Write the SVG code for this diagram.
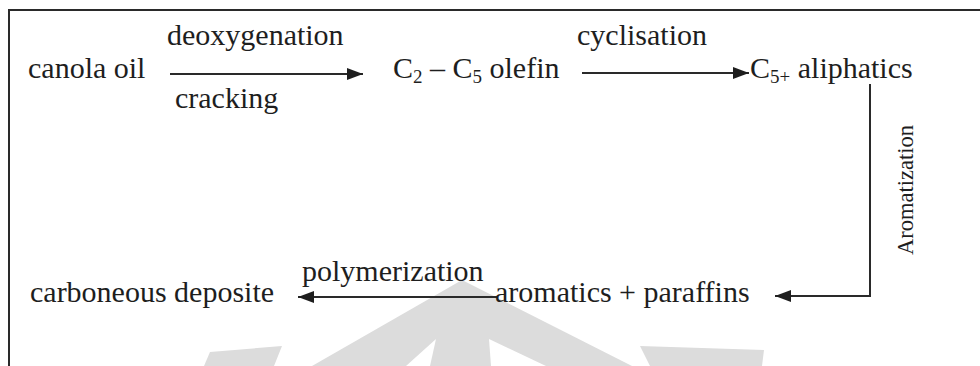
<svg xmlns="http://www.w3.org/2000/svg" width="980" height="366" viewBox="0 0 980 366">
<style>
text{font-family:'Liberation Serif','DejaVu Serif',serif;font-size:30px;fill:#1e1e1e}
.sub{font-size:19px}
.ln{stroke:#2a2a2a;stroke-width:2;fill:none}
.wm{fill:#dcdcdc}
</style>
<defs>
<marker id="ah" markerWidth="16" markerHeight="12" refX="16" refY="6" orient="auto" markerUnits="userSpaceOnUse">
<path d="M0,0 L16,6 L0,12 Z" fill="#1e1e1e"/>
</marker>
</defs>
<rect width="980" height="366" fill="#ffffff"/>
<g id="watermark">
<polygon class="wm" points="462,280 632,366 312,366"/>
<polygon fill="#ffffff" points="436,339 430,366 406,366"/>
<polygon fill="#ffffff" points="489,339 546,366 491,366"/>
<polygon class="wm" points="210,352 282,346 274,366 204,366"/>
<polygon class="wm" points="640,346 764,350 762,366 650,366"/>
</g>
<g id="frame">
<path class="ln" d="M9,366 L9,10 L980,10" stroke-width="2.5"/>
</g>
<g id="connectors">
<line class="ln" x1="170" y1="74" x2="363" y2="74" marker-end="url(#ah)"/>
<line class="ln" x1="582" y1="73" x2="749" y2="73" marker-end="url(#ah)"/>
<polyline class="ln" points="870,84 870,296 775,296" marker-end="url(#ah)"/>
<line class="ln" x1="497" y1="297" x2="298" y2="297" marker-end="url(#ah)"/>
</g>
<g font-family="Liberation Serif, DejaVu Serif, serif">
<g id="label-deoxygenation"><text x="167" y="45">deoxygenation</text></g>
<g id="label-cracking"><text x="175" y="108">cracking</text></g>
<g id="label-cyclisation"><text x="577" y="45">cyclisation</text></g>
<g id="label-aromatization"><text transform="translate(913,255) rotate(-90)" style="font-size:24px" textLength="130" lengthAdjust="spacingAndGlyphs">Aromatization</text></g>
<g id="label-polymerization"><text x="302" y="281">polymerization</text></g>
<g id="node-canola"><text x="28" y="78">canola oil</text></g>
<g id="node-olefin"><text x="393" y="78">C<tspan class="sub" dy="5">2</tspan><tspan dy="-5"> – C</tspan><tspan class="sub" dy="5">5</tspan><tspan dy="-5"> olefin</tspan></text></g>
<g id="node-aliphatics"><text x="750" y="78">C<tspan class="sub" dy="5">5+</tspan><tspan dy="-5"> aliphatics</tspan></text></g>
<g id="node-aromatics"><text x="495" y="302">aromatics + paraffins</text></g>
<g id="node-carboneous"><text x="30" y="302">carboneous deposite</text></g>
</g>
</svg>
